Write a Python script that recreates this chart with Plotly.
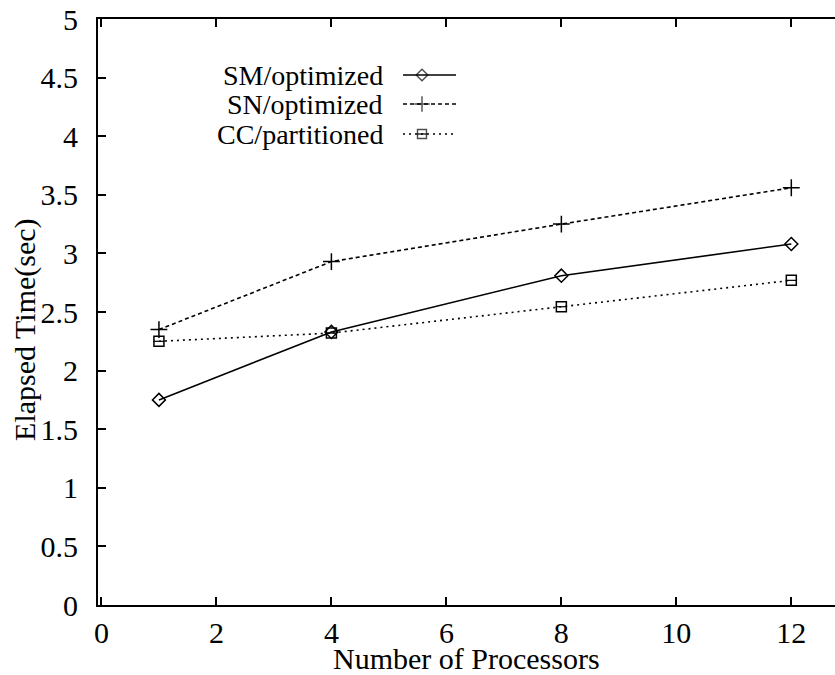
import plotly.graph_objects as go

# Measured elapsed time versus processor count
processors = [1, 4, 8, 12]
sm_optimized = [1.75, 2.33, 2.81, 3.08]
sn_optimized = [2.35, 2.93, 3.25, 3.56]
cc_partitioned = [2.25, 2.32, 2.545, 2.77]

series_names = ["SM/optimized", "SN/optimized", "CC/partitioned"]
x_ticks = [0, 2, 4, 6, 8, 10, 12]
y_ticks = [0, 0.5, 1, 1.5, 2, 2.5, 3, 3.5, 4, 4.5, 5]
y_tick_text = ["0", "0.5", "1", "1.5", "2", "2.5", "3", "3.5", "4", "4.5", "5"]

FONT = "Liberation Serif"
INK = "black"
FS = 30
KEY_FS = 28

styles = [
    dict(dash="solid", symbol="diamond-open", size=10, inner=None),
    dict(dash="4px,3px", symbol="cross-thin-open", size=12, inner=None),
    dict(dash="2px,4px", symbol="square-open", size=10, inner="line-ew-open"),
]
values = [sm_optimized, sn_optimized, cc_partitioned]

fig = go.Figure()
for name, ys, st in zip(series_names, values, styles):
    fig.add_trace(go.Scatter(
        x=processors, y=ys, name=name, mode="lines+markers",
        line=dict(color=INK, width=1.6, dash=st["dash"]),
        marker=dict(symbol=st["symbol"], size=st["size"], color=INK,
                    line=dict(color=INK, width=1.5)),
        showlegend=False,
    ))
    if st["inner"]:
        # centre bar inside the box symbol
        fig.add_trace(go.Scatter(
            x=processors, y=ys, mode="markers", showlegend=False, hoverinfo="skip",
            marker=dict(symbol=st["inner"], size=st["size"] - 2, color=INK,
                        line=dict(color=INK, width=1.2)),
        ))

# Key drawn in a pixel-scaled overlay: text on the left, sample on the right
W, H = 835, 675
ML, MT, MB = 98, 19, 70
key_rows = [75, 104, 134]
key_line = (403, 456)
key_marker_x = 422
for name, st, ry in zip(series_names, styles, key_rows):
    fig.add_trace(go.Scatter(
        x=[key_line[0], key_marker_x, key_line[1]], y=[ry, ry, ry],
        mode="lines+markers", xaxis="x2", yaxis="y2", showlegend=False,
        line=dict(color=INK, width=1.4, dash=st["dash"]),
        marker=dict(symbol=st["symbol"], size=[0, st["size"] - 1, 0], color=INK,
                    line=dict(color=INK, width=1.4)),
        hoverinfo="skip",
    ))
    if st["inner"]:
        fig.add_trace(go.Scatter(
            x=[key_marker_x], y=[ry], mode="markers", xaxis="x2", yaxis="y2",
            showlegend=False, hoverinfo="skip",
            marker=dict(symbol=st["inner"], size=st["size"] - 3, color=INK,
                        line=dict(color=INK, width=1.2)),
        ))
    fig.add_annotation(x=385, y=ry, xref="x2", yref="y2", text=name,
                       showarrow=False, xanchor="right", yanchor="middle",
                       font=dict(family=FONT, size=KEY_FS, color=INK))

axis_common = dict(
    showgrid=False, zeroline=False, showline=True, linecolor=INK, linewidth=2,
    ticks="inside", ticklen=8, tickwidth=1.5, tickcolor=INK,
    tickfont=dict(family=FONT, size=FS, color=INK),
)

fig.update_layout(
    width=W, height=H,
    margin=dict(l=ML, r=0, t=MT, b=MB),
    paper_bgcolor="white", plot_bgcolor="white",
    xaxis=dict(range=[-0.06, 12.76], tickvals=x_ticks, mirror="ticks",
               ticklabelstandoff=0, **axis_common),
    yaxis=dict(range=[0, 5], tickvals=y_ticks, ticktext=y_tick_text,
               ticklabelstandoff=12, **axis_common),
    xaxis2=dict(range=[ML, W], overlaying="x", visible=False, fixedrange=True),
    yaxis2=dict(range=[H - MB, MT], overlaying="y", visible=False, fixedrange=True),
    annotations=list(fig.layout.annotations) + [
        dict(text="Number of Processors", x=0.5, y=-0.092, xref="paper", yref="paper",
             showarrow=False, xanchor="center", yanchor="middle",
             font=dict(family=FONT, size=FS, color=INK)),
        dict(text="Elapsed Time(sec)", x=-0.1, y=0.47, xref="paper", yref="paper",
             showarrow=False, textangle=-90, xanchor="center", yanchor="middle",
             font=dict(family=FONT, size=FS, color=INK)),
    ],
)

fig.write_html("out.html")
